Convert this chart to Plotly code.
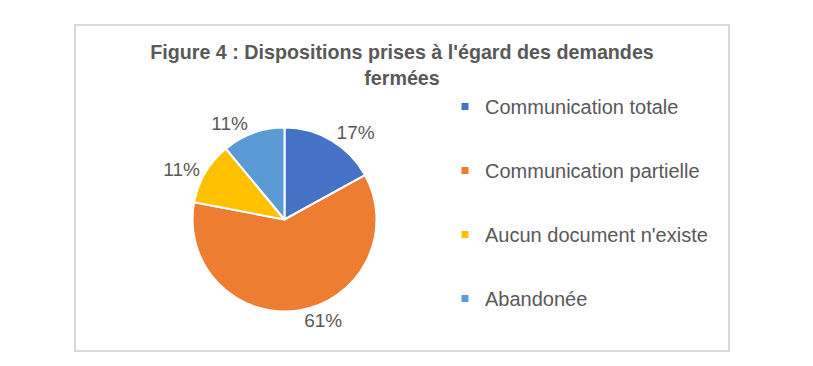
import plotly.graph_objects as go

# ---- data ----
categories = ["Communication totale", "Communication partielle",
              "Aucun document n'existe", "Abandonée"]
values = [17, 61, 11, 11]
colors = ["#4472C4", "#ED7D31", "#FFC000", "#5B9BD5"]
title_text = "Figure 4 : Dispositions prises à l'égard des demandes<br>fermées"

W, H = 813, 366
OFF = 8  # page body margin in the browser
TXT = "#595959"
FONT = "Liberation Sans, Arial, sans-serif"

# pie geometry (screen pixels)
cx, cy, r = 284.5 - OFF, 219.5 - OFF, 92

fig = go.Figure()
fig.add_trace(go.Pie(
    labels=categories, values=values, sort=False, direction="clockwise",
    rotation=0,
    marker=dict(colors=colors, line=dict(color="white", width=2)),
    textposition="outside", texttemplate="%{percent:.0%}",
    textfont=dict(size=19, color=TXT, family=FONT),
    showlegend=False, hoverinfo="label+percent",
    domain=dict(x=[(cx - r) / W, (cx + r) / W],
                y=[(H - cy - r) / H, (H - cy + r) / H]),
))

# legend entries (one group each, for spacing)
for name, col in zip(categories, colors):
    fig.add_trace(go.Scatter(
        x=[None], y=[None], mode="markers", name=name, legendgroup=name,
        marker=dict(symbol="square", size=7, color=col),
        showlegend=True, hoverinfo="skip",
    ))

fig.update_layout(
    width=W, height=H,
    margin=dict(l=0, r=0, t=0, b=0),
    paper_bgcolor="white", plot_bgcolor="rgba(0,0,0,0)",
    xaxis=dict(visible=False), yaxis=dict(visible=False),
    title=dict(text=title_text, x=(402 - OFF) / W, xanchor="center",
               y=1 - (59 - OFF) / H, yanchor="top", xref="paper", yref="paper",
               font=dict(size=19.7, color=TXT, family=FONT, weight="bold")),
    legend=dict(x=(445 - OFF) / W, xanchor="left", y=1 - (87 - OFF) / H,
                yanchor="top",
                font=dict(size=20, color=TXT, family=FONT),
                tracegroupgap=35, bgcolor="rgba(0,0,0,0)"),
    shapes=[dict(type="rect", xref="paper", yref="paper",
                 x0=(75 - OFF) / W, x1=(729 - OFF) / W,
                 y0=1 - (351 - OFF) / H, y1=1 - (25 - OFF) / H,
                 line=dict(color="#D9D9D9", width=2), layer="below")],
)

fig.write_html("out.html")
